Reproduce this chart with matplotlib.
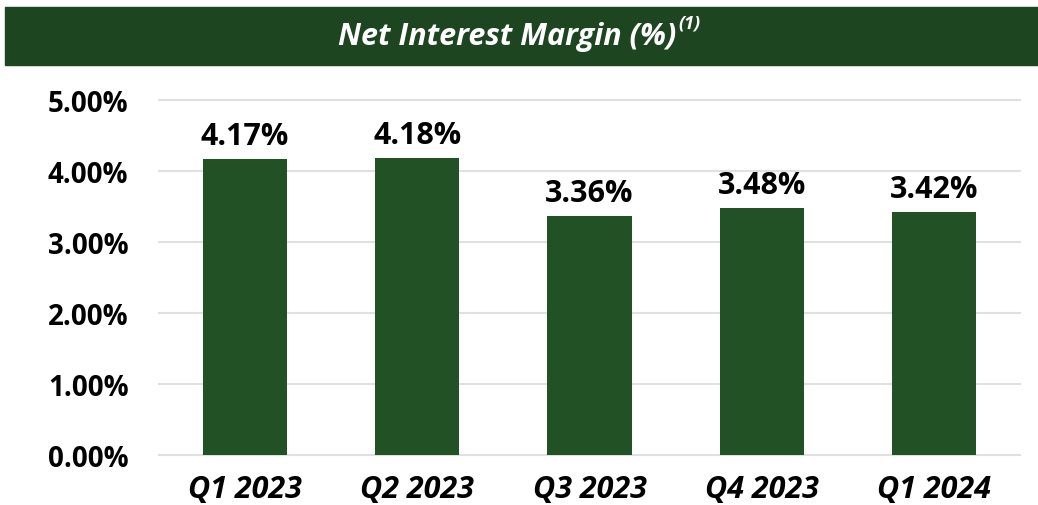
import matplotlib
matplotlib.use("Agg")
import matplotlib.pyplot as plt
from matplotlib.patches import Rectangle

quarters = ["Q1 2023", "Q2 2023", "Q3 2023", "Q4 2023", "Q1 2024"]
nim = [4.17, 4.18, 3.36, 3.48, 3.42]
yticks = [0, 1, 2, 3, 4, 5]

bar_color = "#215124"
banner_color = "#1c4520"

plt.rcParams["font.family"] = ["Open Sans", "DejaVu Sans"]

fig = plt.figure(figsize=(10.38, 5.06), dpi=100)
ax = fig.add_axes([159 / 1038, 1 - 456 / 506, (1020 - 159) / 1038, (456 - 101) / 506])

# title banner
fig.patches.append(Rectangle((5 / 1038, 1 - 66 / 506), 1 - 5 / 1038, 58 / 506,
                             transform=fig.transFigure, color=banner_color, zorder=0))
t = fig.text(0.5 - 12 / 1038, 1 - 37 / 506, "Net Interest Margin (%)", color="white", fontsize=22,
             fontweight="bold", fontstyle="italic", ha="center", va="center")
fig.canvas.draw()
bb = t.get_window_extent().transformed(fig.transFigure.inverted())
fig.text(bb.x1 + 2 / 1038, 1 - 24 / 506, "(1)", color="white", fontsize=13,
         fontweight="bold", fontstyle="italic", ha="left", va="center")

x = list(range(len(quarters)))
bars = ax.bar(x, nim, width=0.49, color=bar_color, zorder=3)
for b, v in zip(bars, nim):
    ax.annotate(f"{v:.2f}%", (b.get_x() + b.get_width() / 2, v), xytext=(0, 6),
                textcoords="offset points", ha="center", va="bottom",
                fontsize=22, fontweight="bold", color="black")

ax.set_xlim(-0.5, 4.5)
ax.set_ylim(0, 5)
ax.set_yticks(yticks)
ax.set_yticklabels([f"{v:.2f}%" for v in yticks], fontsize=20, fontweight="bold")
ax.set_xticks(x)
ax.set_xticklabels(quarters, fontsize=22, fontweight="bold", fontstyle="italic")
ax.tick_params(axis="both", length=0)
ax.tick_params(axis="y", pad=22)
ax.tick_params(axis="x", pad=14)
ax.grid(axis="y", color="#e0e0e0", linewidth=1.5, zorder=0, clip_on=False)
for s in ax.spines.values():
    s.set_visible(False)

fig.savefig("out.png", dpi=100)
